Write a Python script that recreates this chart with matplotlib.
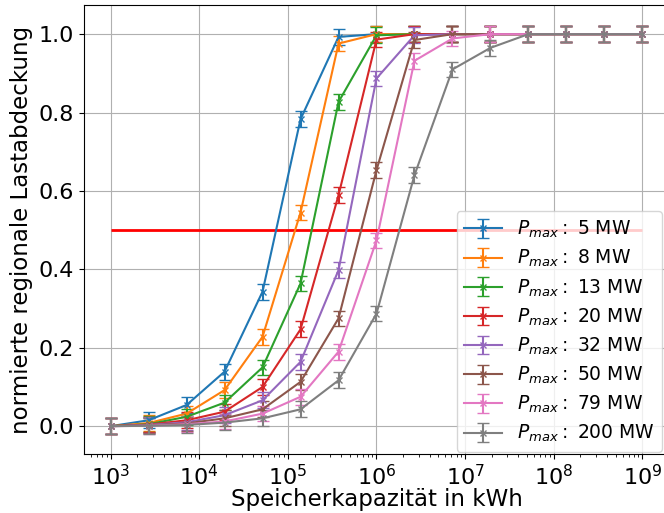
import numpy as np
import matplotlib
matplotlib.use('Agg')
import matplotlib.pyplot as plt

# storage capacity in kWh
capacity = [1.0e3, 2.68e3, 7.2e3, 1.93e4, 5.18e4, 1.39e5, 3.73e5, 1.0e6,
            2.68e6, 7.2e6, 1.93e7, 5.18e7, 1.39e8, 3.73e8, 1.0e9]

pmax_labels = ['5 MW', '8 MW', '13 MW', '20 MW', '32 MW', '50 MW', '79 MW', '200 MW']

cover_5 = [0.0, 0.015, 0.054, 0.139, 0.343, 0.783, 0.993, 1.0, 1.0, 1.0, 1.0, 1.0, 1.0, 1.0, 1.0]
cover_8 = [0.0, 0.008, 0.032, 0.092, 0.228, 0.545, 0.976, 1.0, 1.0, 1.0, 1.0, 1.0, 1.0, 1.0, 1.0]
cover_13 = [0.0, 0.005, 0.024, 0.060, 0.150, 0.364, 0.827, 0.997, 1.0, 1.0, 1.0, 1.0, 1.0, 1.0, 1.0]
cover_20 = [0.0, 0.004, 0.015, 0.037, 0.100, 0.247, 0.589, 0.986, 1.0, 1.0, 1.0, 1.0, 1.0, 1.0, 1.0]
cover_32 = [0.0, 0.003, 0.010, 0.028, 0.066, 0.164, 0.398, 0.887, 0.997, 1.0, 1.0, 1.0, 1.0, 1.0, 1.0]
cover_50 = [0.0, 0.002, 0.007, 0.020, 0.043, 0.113, 0.275, 0.653, 0.985, 1.0, 1.0, 1.0, 1.0, 1.0, 1.0]
cover_79 = [0.0, 0.001, 0.005, 0.012, 0.032, 0.075, 0.190, 0.474, 0.932, 0.989, 1.0, 1.0, 1.0, 1.0, 1.0]
cover_200 = [0.0, 0.001, 0.003, 0.009, 0.020, 0.043, 0.117, 0.287, 0.640, 0.910, 0.965, 1.0, 1.0, 1.0, 1.0]

err = 0.02

series = [cover_5, cover_8, cover_13, cover_20, cover_32, cover_50, cover_79, cover_200]

fig = plt.figure(figsize=(6.64, 5.13), dpi=100)
ax = fig.add_axes([0.1265, 0.115, 0.881, 0.875])

for vals, lab in zip(series, pmax_labels):
    ax.errorbar(capacity, vals, yerr=err, marker='x', markersize=4, capsize=4,
                linewidth=1.5, label=r'$P_{max}:$ ' + lab)

ax.hlines(0.5, 1e3, 1e9, color='red', linewidth=2)

ax.set_xscale('log')
ax.set_xlim(10**2.7, 10**9.3)
ax.set_ylim(-0.071, 1.074)
ax.grid(True)
ax.set_xlabel('Speicherkapazität in kWh', fontsize=16.5, labelpad=-1)
ax.set_ylabel('normierte regionale Lastabdeckung', fontsize=16.5)
ax.tick_params(labelsize=16)
ax.legend(loc='lower right', fontsize=13.5, labelspacing=0.42,
          bbox_to_anchor=(662/664, 61/513),
          bbox_transform=fig.transFigure, borderaxespad=0)

fig.savefig('out.png', dpi=100)
